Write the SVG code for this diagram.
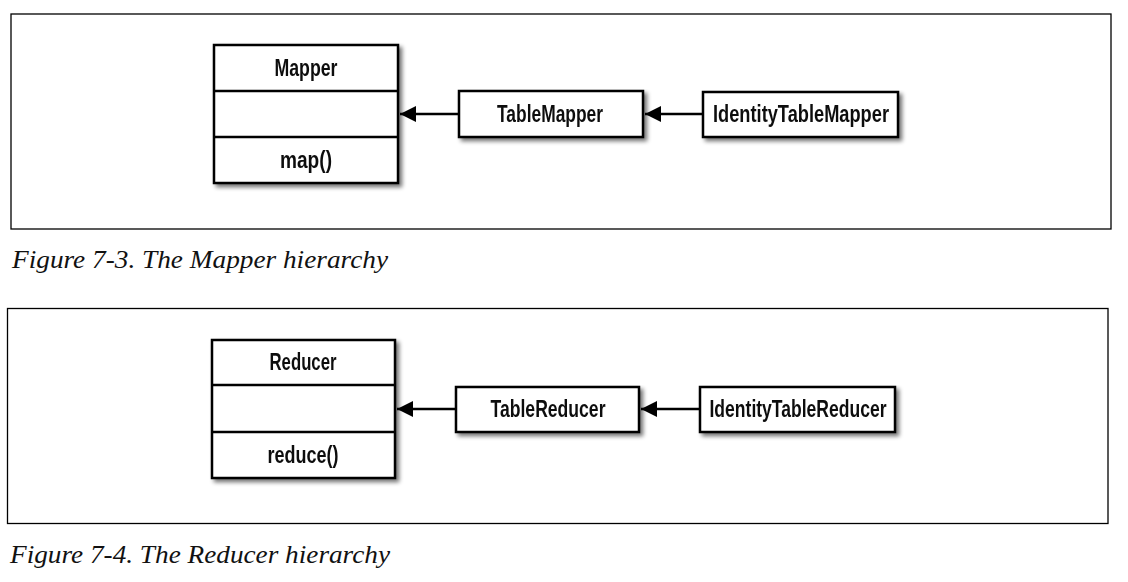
<svg xmlns="http://www.w3.org/2000/svg" width="1128" height="582" viewBox="0 0 1128 582">
<defs>
<filter id="sh" x="-10%" y="-10%" width="130%" height="140%">
<feGaussianBlur in="SourceAlpha" stdDeviation="2"/>
<feOffset dx="3" dy="3" result="b"/>
<feComponentTransfer><feFuncA type="linear" slope="0.55"/></feComponentTransfer>
<feMerge><feMergeNode/><feMergeNode in="SourceGraphic"/></feMerge>
</filter>
<marker id="ah" viewBox="0 0 16 16" markerWidth="16" markerHeight="16" refX="16" refY="8" orient="auto" markerUnits="userSpaceOnUse">
<path d="M0,0 L16,8 L0,16 Z" fill="#000"/>
</marker>
</defs>
<style>
.frame{fill:none;stroke:#000;stroke-width:1.3}
.box{fill:#fff;stroke:#000;stroke-width:2.5}
.div{stroke:#000;stroke-width:2.5}
.lbl{font-family:"Liberation Sans",Arial,sans-serif;font-weight:bold;font-size:23px;fill:#111;text-anchor:middle}
.cap{font-family:"Liberation Serif","Times New Roman",serif;font-style:italic;font-size:25px;fill:#111}
.edge{stroke:#000;stroke-width:2.5;fill:none}
</style>
<rect width="1128" height="582" fill="#fff"/>
<rect class="frame" x="11" y="14" width="1100" height="215"/>
<rect class="frame" x="7.5" y="308.5" width="1100.5" height="215"/>
<text class="cap" x="12" y="268" textLength="376" lengthAdjust="spacingAndGlyphs">Figure 7-3. The Mapper hierarchy</text>
<text class="cap" x="10" y="563" textLength="380" lengthAdjust="spacingAndGlyphs">Figure 7-4. The Reducer hierarchy</text>
<g id="mapper" filter="url(#sh)">
<rect class="box" x="214" y="45" width="184" height="138"/>
<line class="div" x1="214" y1="91" x2="398" y2="91"/>
<line class="div" x1="214" y1="137" x2="398" y2="137"/>
<text class="lbl" x="306" y="76" textLength="63" lengthAdjust="spacingAndGlyphs">Mapper</text>
<text class="lbl" x="306" y="168" textLength="52" lengthAdjust="spacingAndGlyphs">map()</text>
</g>
<g id="tablemapper" filter="url(#sh)">
<rect class="box" x="459" y="91" width="184" height="46"/>
<text class="lbl" x="550" y="122" textLength="106" lengthAdjust="spacingAndGlyphs">TableMapper</text>
</g>
<g id="identitytablemapper" filter="url(#sh)">
<rect class="box" x="703" y="92" width="195" height="45"/>
<text class="lbl" x="801" y="122" textLength="176" lengthAdjust="spacingAndGlyphs">IdentityTableMapper</text>
</g>
<g id="reducer" filter="url(#sh)">
<rect class="box" x="212" y="340" width="183" height="138"/>
<line class="div" x1="212" y1="385" x2="395" y2="385"/>
<line class="div" x1="212" y1="432" x2="395" y2="432"/>
<text class="lbl" x="303" y="370" textLength="67" lengthAdjust="spacingAndGlyphs">Reducer</text>
<text class="lbl" x="303" y="463" textLength="71" lengthAdjust="spacingAndGlyphs">reduce()</text>
</g>
<g id="tablereducer" filter="url(#sh)">
<rect class="box" x="456" y="387" width="183" height="45"/>
<text class="lbl" x="548" y="417" textLength="115" lengthAdjust="spacingAndGlyphs">TableReducer</text>
</g>
<g id="identitytablereducer" filter="url(#sh)">
<rect class="box" x="700" y="387" width="195" height="45"/>
<text class="lbl" x="798" y="417" textLength="177" lengthAdjust="spacingAndGlyphs">IdentityTableReducer</text>
</g>
<g id="connectors">
<line class="edge" x1="459" y1="114" x2="400" y2="114" marker-end="url(#ah)"/>
<line class="edge" x1="703" y1="114" x2="645" y2="114" marker-end="url(#ah)"/>
<line class="edge" x1="456" y1="409" x2="397" y2="409" marker-end="url(#ah)"/>
<line class="edge" x1="700" y1="409" x2="641" y2="409" marker-end="url(#ah)"/>
</g>
</svg>
